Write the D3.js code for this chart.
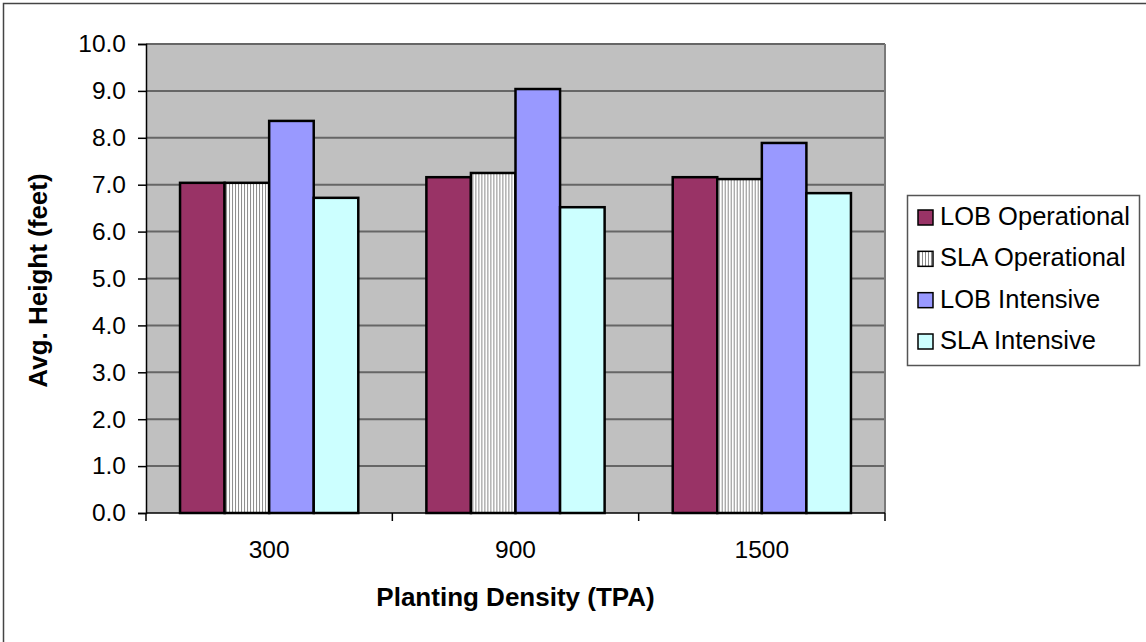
<!DOCTYPE html>
<html>
<head>
<meta charset="utf-8">
<script src="https://cdn.jsdelivr.net/npm/d3@7"></script>
<style>
  html, body { margin: 0; padding: 0; background: #fff; }
  svg { display: block; font-family: Arial, "Liberation Sans", sans-serif; }
</style>
</head>
<body>
<svg id="chart" width="1146" height="642"></svg>
<script>
// Planting density categories (trees per acre)
const categories = ["300", "900", "1500"];
const seriesNames = ["LOB Operational", "SLA Operational", "LOB Intensive", "SLA Intensive"];
// Average height (feet) per series, one value per category
const lobOperational = [7.04, 7.16, 7.16];
const slaOperational = [7.04, 7.25, 7.12];
const lobIntensive   = [8.36, 9.04, 7.89];
const slaIntensive   = [6.72, 6.52, 6.82];
const yTicks = [0, 1, 2, 3, 4, 5, 6, 7, 8, 9, 10];

const seriesValues = [lobOperational, slaOperational, lobIntensive, slaIntensive];
const fills = ["#993366", "url(#vstripe)", "#9999FF", "#CCFFFF"];

const svg = d3.select("#chart");

// vertical hatch used for SLA Operational
const defs = svg.append("defs");
const pat = defs.append("pattern")
  .attr("id", "vstripe").attr("patternUnits", "userSpaceOnUse")
  .attr("width", 3).attr("height", 3);
pat.append("rect").attr("width", 3).attr("height", 3).attr("fill", "#fff");
pat.append("rect").attr("x", 1).attr("width", 1).attr("height", 3).attr("fill", "#8a8a8a");

// outer chart frame
svg.append("rect")
  .attr("x", 3.5).attr("y", 3.5).attr("width", 1160).attr("height", 660)
  .attr("fill", "none").attr("stroke", "#444").attr("stroke-width", 1.5);

const plot = { left: 146, right: 885, top: 44, bottom: 513 };

const x = d3.scaleBand().domain(categories)
  .range([plot.left, plot.right]).paddingInner(0).paddingOuter(0);
const y = d3.scaleLinear().domain([0, 10]).range([plot.bottom, plot.top]);

// plot area background
svg.append("rect")
  .attr("x", plot.left).attr("y", plot.top)
  .attr("width", plot.right - plot.left).attr("height", plot.bottom - plot.top)
  .attr("fill", "#C0C0C0");

// horizontal gridlines
svg.append("g").selectAll("line")
  .data(yTicks.filter(d => d > 0))
  .join("line")
  .attr("x1", plot.left).attr("x2", plot.right)
  .attr("y1", d => y(d)).attr("y2", d => y(d))
  .attr("stroke", "#666").attr("stroke-width", 2);

// plot area right border
svg.append("line")
  .attr("x1", plot.right).attr("x2", plot.right)
  .attr("y1", plot.top).attr("y2", plot.bottom)
  .attr("stroke", "#7a7a7a").attr("stroke-width", 2);

// bars
const groupWidth = x.bandwidth();
const barW = groupWidth * 178 / 246 / 4;
const inner = d3.scaleBand().domain(d3.range(seriesNames.length))
  .range([0, barW * 4]);
const offset = (groupWidth - barW * 4) / 2;

const groups = svg.append("g").selectAll("g")
  .data(categories)
  .join("g")
  .attr("transform", d => `translate(${x(d) + offset},0)`);

groups.selectAll("rect")
  .data((c, ci) => seriesValues.map((vals, si) => ({ si, v: vals[ci] })))
  .join("rect")
  .attr("x", d => inner(d.si))
  .attr("y", d => y(d.v))
  .attr("width", inner.bandwidth())
  .attr("height", d => y(0) - y(d.v))
  .attr("fill", d => fills[d.si])
  .attr("stroke", "#000").attr("stroke-width", 2.5);

// y axis
const yAxis = d3.axisLeft(y).tickValues(yTicks)
  .tickFormat(d3.format(".1f")).tickSizeOuter(0).tickSize(8).tickPadding(12);
const gy = svg.append("g").attr("transform", `translate(${plot.left},0)`).call(yAxis);
gy.select(".domain").attr("stroke", "#000").attr("stroke-width", 1.5);
gy.selectAll(".tick line").attr("stroke", "#000").attr("stroke-width", 1.5);
gy.selectAll(".tick text").attr("font-size", 24.5).attr("fill", "#000")
  .attr("font-family", "Arial, 'Liberation Sans', sans-serif");

// x axis: line along zero, ticks at category boundaries
svg.append("line")
  .attr("x1", plot.left).attr("x2", plot.right)
  .attr("y1", plot.bottom).attr("y2", plot.bottom)
  .attr("stroke", "#000").attr("stroke-width", 1.5);
const boundaries = categories.map(c => x(c)).concat([x(categories[categories.length - 1]) + groupWidth]);
svg.append("g").selectAll("line")
  .data(boundaries)
  .join("line")
  .attr("x1", d => d).attr("x2", d => d)
  .attr("y1", plot.bottom).attr("y2", plot.bottom + 8)
  .attr("stroke", "#000").attr("stroke-width", 1.5);
svg.append("g").selectAll("text")
  .data(categories)
  .join("text")
  .attr("x", d => x(d) + groupWidth / 2)
  .attr("y", 558)
  .attr("text-anchor", "middle")
  .attr("font-size", 24.5)
  .text(d => d);

// axis titles
svg.append("text")
  .attr("x", (plot.left + plot.right) / 2).attr("y", 606)
  .attr("text-anchor", "middle")
  .attr("font-size", 26).attr("font-weight", "bold")
  .text("Planting Density (TPA)");
svg.append("text")
  .attr("transform", `translate(47,${(plot.top + plot.bottom) / 2 + 2}) rotate(-90)`)
  .attr("text-anchor", "middle")
  .attr("font-size", 26).attr("font-weight", "bold")
  .text("Avg. Height (feet)");

// legend
const legend = svg.append("g");
legend.append("rect")
  .attr("x", 907.5).attr("y", 195.5).attr("width", 232).attr("height", 170)
  .attr("fill", "#fff").attr("stroke", "#555").attr("stroke-width", 1.5);
const rowY = d3.scalePoint().domain(d3.range(seriesNames.length)).range([225, 349]);
const items = legend.selectAll("g.item")
  .data(seriesNames)
  .join("g").attr("class", "item")
  .attr("transform", (d, i) => `translate(0,${rowY(i)})`);
items.append("rect")
  .attr("x", 918).attr("y", -15).attr("width", 15).attr("height", 15)
  .attr("fill", (d, i) => fills[i])
  .attr("stroke", "#000").attr("stroke-width", 1.5);
items.append("text")
  .attr("x", 940).attr("y", 0)
  .attr("font-size", 25.5)
  .text(d => d);
</script>
</body>
</html>
